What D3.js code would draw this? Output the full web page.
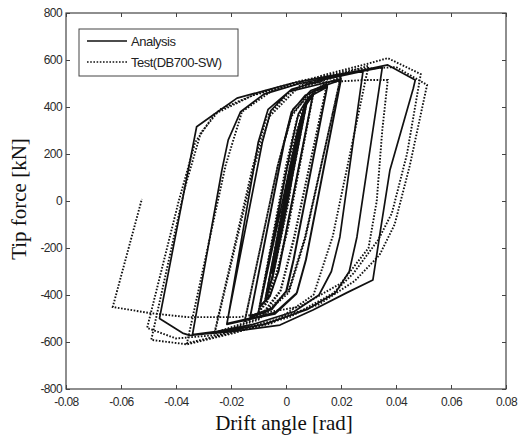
<!DOCTYPE html>
<html><head><meta charset="utf-8">
<script src="https://cdn.jsdelivr.net/npm/d3@7"></script>
<style>
body{margin:0;background:#fff;}
.tick text{font-family:"Liberation Sans",Arial,sans-serif;font-size:12px;fill:#2a2a2a;letter-spacing:-0.6px;}
.tick line{stroke:#444;}
.domain{display:none;}
</style>
</head><body>
<svg id="c" width="518" height="441"></svg>
<script>
const xTicks = [-0.08,-0.06,-0.04,-0.02,0,0.02,0.04,0.06,0.08];
const xTickLabels = ["-0.08","-0.06","-0.04","-0.02","0","0.02","0.04","0.06","0.08"];
const yTicks = [-800,-600,-400,-200,0,200,400,600,800];
const yTickLabels = ["-800","-600","-400","-200","0","200","400","600","800"];
const seriesNames = ["Analysis","Test(DB700-SW)"];

// Analysis (solid) : [drift angle rad, tip force kN]
const analysis = [
[0,0],
[0.005,300],[-0.005,-300],[0.005,305],[-0.005,-305],[0.005,308],[-0.005,-308],
[0.0055,330],[0.0068,395],[0.0075,415],
[-0.0045,-300],[-0.0065,-385],[-0.0075,-415],
[0.0045,300],[0.0065,390],[0.0075,420],
[-0.0045,-300],[-0.0065,-390],[-0.0075,-420],
[0.0045,300],[0.0068,400],[0.0098,452],
[-0.0027,-300],[-0.0058,-400],[-0.0095,-448],
[0.0043,300],[0.0068,405],[0.0098,456],
[-0.0028,-300],[-0.0058,-405],[-0.0095,-452],
[0.0022,250],[0.0045,370],[0.008,440],[0.015,485],
[0.0028,-250],[0.0003,-380],[-0.005,-455],[-0.013,-490],
[-0.0007,250],[0.002,380],[0.007,450],[0.015,490],
[0.0027,-250],[0.0,-385],[-0.005,-460],[-0.013,-493],
[-0.0006,250],[0.0025,390],[0.009,470],[0.02,515],
[0.0073,-250],[0.004,-390],[-0.004,-475],[-0.0215,-522],
[-0.0086,250],[-0.0055,385],[0.001,465],[0.02,520],
[0.0072,-250],[0.0038,-395],[-0.004,-480],[-0.0215,-525],
[-0.0101,250],[-0.0065,390],[0.002,475],[0.015,520],[0.028,552],
[0.0196,-153],[0.0165,-300],[0.012,-400],[0.003,-470],[-0.012,-525],[-0.025,-555],[-0.034,-568],
[-0.0233,132],[-0.021,260],[-0.0165,380],[-0.008,455],[0.005,500],[0.02,535],[0.035,568],
[0.0258,-153],[0.023,-300],[0.018,-390],[0.008,-460],[-0.008,-525],[-0.025,-560],[-0.035,-572],[-0.0376,-562],[-0.046,-500],
[-0.0325,316],[-0.0265,366],[-0.0178,438],[-0.007,472],[0.0025,502],[0.015,530],[0.028,557],[0.037,579],[0.047,515],[0.0463,480],
[0.0378,132],[0.0342,-136],[0.0316,-336],[0.022,-391],[0.0098,-464],[-0.0022,-528],[-0.02,-556],[-0.034,-570]
];

// Test (dotted)
const test = [
[0,0],
[0.005,330],[-0.001,0],[-0.005,-330],[0.001,0],[0.005,335],[-0.001,0],[-0.005,-335],[0.001,0],[0.005,335],[-0.001,0],[-0.005,-335],
[0.002,100],[0.0055,350],[0.0075,420],
[-0.001,-100],[-0.0055,-360],[-0.0075,-420],
[0.001,100],[0.0055,360],[0.0075,425],
[-0.001,-100],[-0.0055,-365],[-0.0075,-425],
[0.001,120],[0.004,290],[0.007,405],[0.01,460],
[0.0005,-130],[-0.004,-330],[-0.007,-430],[-0.01,-470],
[0.0,120],[0.004,300],[0.007,410],[0.01,462],
[0.0,-140],[-0.004,-340],[-0.007,-435],[-0.01,-472],
[0.0,150],[0.004,350],[0.009,450],[0.015,500],
[0.003,-150],[-0.002,-380],[-0.008,-470],[-0.015,-510],
[-0.003,150],[0.002,360],[0.008,455],[0.015,505],
[0.003,-160],[-0.002,-385],[-0.008,-475],[-0.015,-512],
[-0.003,150],[0.002,370],[0.01,470],[0.02,530],
[0.007,-150],[0.001,-380],[-0.01,-500],[-0.026,-560],
[-0.012,150],[-0.007,360],[0.002,470],[0.02,535],
[0.007,-160],[0.001,-390],[-0.01,-505],[-0.026,-565],
[-0.0115,150],[-0.006,360],[0.005,490],[0.03,575],
[0.017,-150],[0.01,-400],[-0.005,-520],[-0.036,-605],
[-0.022,150],[-0.016,380],[-0.005,470],[0.015,540],[0.03,585],[0.037,608],[0.049,540],
[0.044,200],[0.0385,-52],[0.0335,-166],[0.0245,-308],[0.0171,-393],[0.0015,-493],[-0.019,-562],[-0.036,-610],[-0.049,-591],
[-0.037,47],[-0.031,290],[-0.024,390],[-0.01,460],[0.005,510],[0.025,560],[0.04,570],[0.0513,494],
[0.045,150],[0.0395,-100],[0.034,-230],[0.025,-340],[0.012,-440],[-0.005,-510],[-0.025,-570],[-0.04,-585],[-0.0505,-540],
[-0.039,0],[-0.033,250],[-0.026,370],[-0.012,450],[0.005,500],[0.029,515],[0.037,515],
[0.035,300],[0.033,0],[0.03,-200],[0.02,-350],[0.005,-450],[-0.017,-494],[-0.036,-494],[-0.0495,-477],[-0.063,-451],[-0.0524,9]
];

const L=66,R=506,T=13,B=389;
const svg=d3.select("#c");
svg.append("rect").attr("width",518).attr("height",441).attr("fill","#fff");
const x=d3.scaleLinear().domain([-0.08,0.08]).range([L,R]);
const y=d3.scaleLinear().domain([-800,800]).range([B,T]);

const line=d3.line().x(d=>x(d[0])).y(d=>y(d[1]));
const plot=svg.append("g");
plot.append("path").datum(test).attr("d",line).attr("fill","none")
  .attr("stroke","#111").attr("stroke-width",1.9).attr("stroke-dasharray","1.6,1.6");
plot.append("path").datum(analysis).attr("d",line).attr("fill","none")
  .attr("stroke","#111").attr("stroke-width",1.7).attr("stroke-linejoin","round");

// axes
svg.append("g").attr("transform",`translate(0,${B})`)
  .call(d3.axisBottom(x).tickValues(xTicks).tickFormat((d,i)=>xTickLabels[i]).tickSizeInner(-4).tickSizeOuter(0).tickPadding(8));
svg.append("g").attr("transform",`translate(0,${T})`)
  .call(d3.axisTop(x).tickValues(xTicks).tickFormat("").tickSizeInner(-4).tickSizeOuter(0));
svg.append("g").attr("transform",`translate(${L},0)`)
  .call(d3.axisLeft(y).tickValues(yTicks).tickFormat((d,i)=>yTickLabels[i]).tickSizeInner(-4).tickSizeOuter(0).tickPadding(4));
svg.append("g").attr("transform",`translate(${R},0)`)
  .call(d3.axisRight(y).tickValues(yTicks).tickFormat("").tickSizeInner(-4).tickSizeOuter(0));
svg.append("rect").attr("x",L).attr("y",T).attr("width",R-L).attr("height",B-T)
  .attr("fill","none").attr("stroke","#444").attr("stroke-width",1.2);

// titles
svg.append("text").attr("x",284).attr("y",430).attr("text-anchor","middle")
  .attr("font-family","'Liberation Serif','Times New Roman',serif").attr("font-size",21).attr("fill","#111")
  .text("Drift angle [rad]");
svg.append("text").attr("transform","translate(26,199) rotate(-90)").attr("text-anchor","middle")
  .attr("font-family","'Liberation Serif','Times New Roman',serif").attr("font-size",21).attr("fill","#111")
  .text("Tip force [kN]");

// legend
const lg=svg.append("g");
lg.append("rect").attr("x",79).attr("y",29).attr("width",159).attr("height",47)
  .attr("fill","#fff").attr("stroke","#444").attr("stroke-width",1);
lg.append("line").attr("x1",87).attr("x2",127).attr("y1",41).attr("y2",41).attr("stroke","#111").attr("stroke-width",1.7);
lg.append("line").attr("x1",87).attr("x2",127).attr("y1",62).attr("y2",62).attr("stroke","#111").attr("stroke-width",1.7).attr("stroke-dasharray","1.6,1.6");
lg.selectAll("text.lt").data(seriesNames).enter().append("text").attr("class","lt")
  .attr("x",131).attr("y",(d,i)=>45.5+i*21)
  .attr("font-family","'Liberation Sans',Arial,sans-serif").attr("font-size",13).attr("fill","#222")
  .attr("letter-spacing","-0.5px").text(d=>d);
</script>
</body></html>
